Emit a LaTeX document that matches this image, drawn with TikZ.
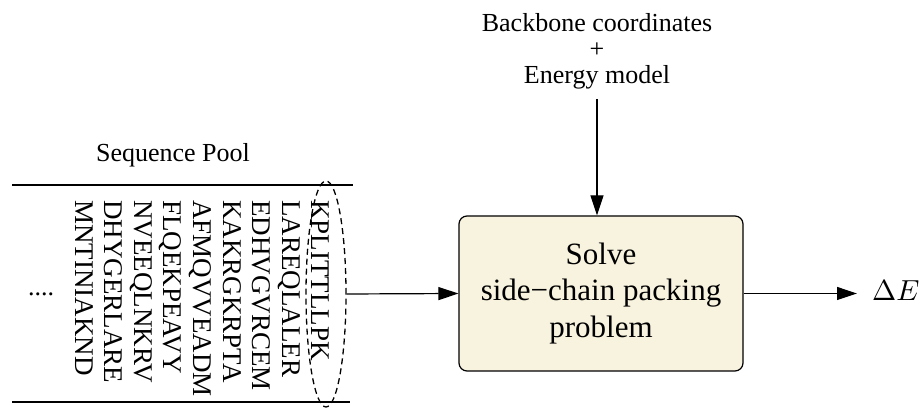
\documentclass[tikz,border=0pt]{standalone}
\usepackage{fontspec}
\usepackage{graphicx}
\setmainfont{Liberation Serif}
\usetikzlibrary{arrows.meta,shapes.geometric}
\definecolor{boxfill}{HTML}{F8F3DF}
\tikzset{
  flow/.style={line width=1.2pt,-{Triangle[length=20pt,width=13pt]}},
  rule/.style={line width=1.8pt},
  seq/.style={rotate=-90,anchor=base west,inner sep=0pt,
              font=\fontsize{27}{27}\selectfont},
  lbl/.style={inner sep=0pt,font=\fontsize{26}{26}\selectfont},
  solvebox/.style={draw,line width=1.2pt,rounded corners=8pt,fill=boxfill,
              minimum width=284pt,minimum height=155pt,align=center,
              font=\fontsize{31}{36.5}\selectfont}
}
\begin{document}
\begin{tikzpicture}[x=1pt,y=-1pt]
\useasboundingbox (0,0) rectangle (922,411);

% inputs of the packing step
\node[lbl,align=center,anchor=south] (inputs) at (597,89)
  {Backbone coordinates\\+\\Energy model};

% packing step
\node[solvebox] (solve) at (601,293.5)
  {Solve\\side−chain packing\\problem};

% result
\node[inner sep=0pt,anchor=base west] (dE) at (872,301)
  {\scalebox{2.9}{$\Delta E$}};

% sequence pool
\node[lbl,anchor=base] (pooltitle) at (173,162) {Sequence Pool};
\coordinate (topL) at (12,185);
\coordinate (topR) at (353,185);
\coordinate (botL) at (12,402);
\coordinate (botR) at (350,402);
\draw[rule] (topL) -- (topR);
\draw[rule] (botL) -- (botR);

\node[lbl,anchor=base] (dots) at (41,296) {....};
\foreach \s [count=\i from 0] in
  {MNTINIAKND,DHYGERLARE,NVEEQLNKRV,FLQEKPEAVY,AFMQVVEADM,
   KAKRGKRPTA,EDHVGVRCEM,LAREQLALER,KPLITTLLPK}
  \node[seq] (s\i) at (75+29.6*\i,200) {\s};

% selected sequence
\node[draw,dash pattern=on 6pt off 4pt,line width=1.3pt,ellipse,inner sep=0pt,
      minimum width=40pt,minimum height=226pt] (pick) at (326,294) {};

% connectors
\draw[flow] (inputs.south) ++(0,10) -- (inputs.south |- solve.north);
\draw[flow] (pick.east) -- (solve.west);
\draw[flow] (solve.east) -- ([xshift=-15pt]solve.east -| dE.west);
\end{tikzpicture}
\end{document}
